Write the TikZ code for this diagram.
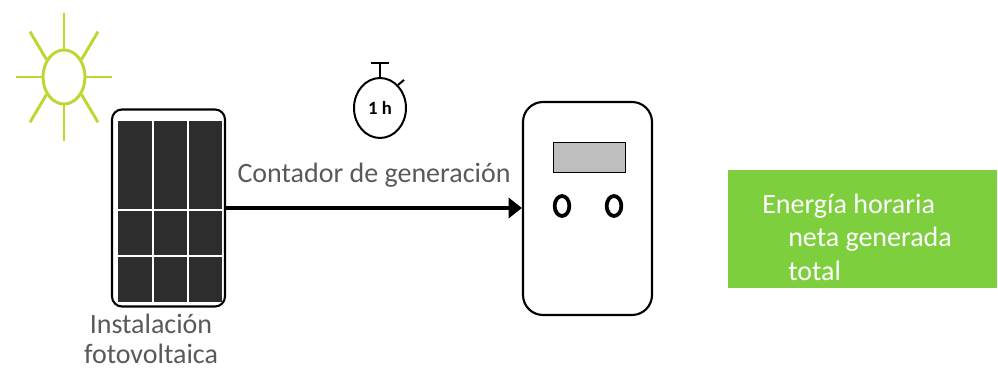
\documentclass[tikz,border=0pt]{standalone}
\usepackage{fontspec}
\setmainfont{Carlito}
\usetikzlibrary{positioning,shapes.geometric,calc}
\usetikzlibrary{arrows.meta}
\definecolor{mysun}{RGB}{190,214,48}
\definecolor{mygreen}{RGB}{126,207,62}
\definecolor{mydark}{RGB}{45,45,45}
\definecolor{mygrey}{RGB}{89,89,89}
\definecolor{myscreen}{RGB}{190,190,190}

\begin{document}
\begin{tikzpicture}[x=0.75pt,y=-0.75pt,
  txt/.style={text=mygrey,font=\fontsize{21}{22.5}\selectfont,inner sep=0pt},
  ray/.style={draw=mysun,line width=2.2pt},
  pvbox/.style={draw,line width=1.6pt,rounded corners=7.5pt,minimum width=84.75pt,minimum height=147.75pt},
  ctbox/.style={draw,line width=1.6pt,rounded corners=15pt,minimum width=96.75pt,minimum height=159.75pt},
  knob/.style={draw,line width=2.8pt,ellipse,minimum width=11pt,minimum height=15pt,inner sep=0pt},
  outbox/.style={fill=mygreen,minimum width=201.75pt,minimum height=88.5pt}]
  \useasboundingbox (0,0) rectangle (998,370);

  \node[ellipse,ray,minimum width=31.5pt,minimum height=40.5pt] (sun) at (64,77) {};
  \foreach \a in {0,45,...,315}
    \draw[ray] (sun.\a) -- ($(sun)+(\a:36pt and 48pt)$);

  \fill[mydark] (118,121) rectangle (222,302);
  \foreach \x in {153,188}
    \draw[white,line width=1pt] (\x,121) -- (\x,302);
  \foreach \y in {210,256}
    \draw[white,line width=1pt] (118,\y) -- (222,\y);
  \node[pvbox] (panel) at (168.5,208) {};
  \node[txt,align=center,anchor=base] (pvtext) at (151,363) {Instalación\\fotovoltaica};

  \node[ellipse,draw,line width=1.5pt,minimum width=39pt,minimum height=45pt,inner sep=0pt,
    font=\fontsize{14}{14}\selectfont\bfseries] (watch) at (380,108) {1 h};
  \draw[line width=1.5pt] (watch.north) -- ++(0,-14) ++(-9,0) -- ++(18,0);
  \draw[line width=1.5pt] (watch.52) -- ++(6,-5);

  \node[ctbox] (meter) at (587.5,208.5) {};
  \node[draw,fill=myscreen,line width=0.6pt,minimum width=54pt,minimum height=22.5pt] (screen) at (589,157) {};
  \node[knob] (knob1) at (562,206) {};
  \node[knob] (knob2) at (614,206) {};

  \draw[line width=3.6pt,-{Triangle[length=10pt,width=15pt]}] (panel.east) -- (panel.east -| meter.west);
  \node[txt,anchor=base] (ctrtext) at (374,183) {Contador de generación};

  \node[outbox] (out) at (862.5,229) {};
  \node[txt,text=white,align=left,anchor=base west,font=\fontsize{21}{25}\selectfont] (outtext) at (762,280)
    {Energía horaria\\\hspace*{19.5pt}neta generada\\\hspace*{19.5pt}total};
\end{tikzpicture}
\end{document}
